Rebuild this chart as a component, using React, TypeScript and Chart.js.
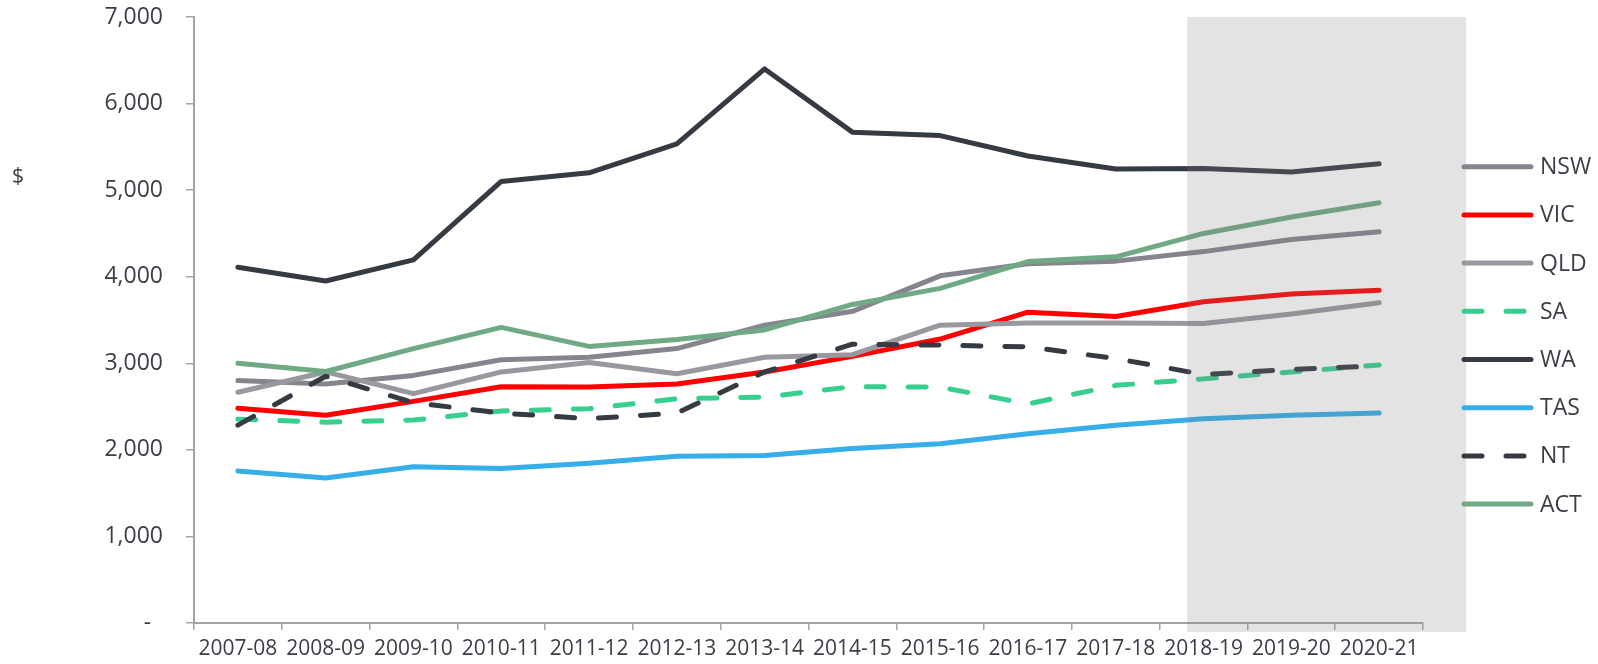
import React, { useEffect, useRef } from 'react';
import { Chart, registerables } from 'chart.js';

Chart.register(...registerables);

const years = ['2007-08', '2008-09', '2009-10', '2010-11', '2011-12', '2012-13', '2013-14', '2014-15', '2015-16', '2016-17', '2017-18', '2018-19', '2019-20', '2020-21'];

const NSW = [2800, 2760, 2860, 3040, 3070, 3170, 3440, 3600, 4010, 4150, 4180, 4290, 4430, 4520];
const VIC = [2480, 2400, 2560, 2730, 2725, 2760, 2900, 3080, 3280, 3590, 3540, 3710, 3800, 3845];
const QLD = [2665, 2900, 2650, 2900, 3010, 2880, 3070, 3100, 3440, 3465, 3465, 3460, 3570, 3700];
const SA = [2355, 2320, 2345, 2450, 2475, 2590, 2610, 2730, 2725, 2530, 2745, 2820, 2900, 2980];
const WA = [4110, 3950, 4195, 5100, 5200, 5535, 6400, 5670, 5630, 5395, 5245, 5250, 5210, 5305];
const TAS = [1755, 1675, 1805, 1785, 1845, 1925, 1935, 2015, 2070, 2185, 2285, 2360, 2400, 2425];
const NT = [2285, 2850, 2545, 2425, 2360, 2425, 2900, 3220, 3210, 3190, 3055, 2870, 2930, 2970];
const ACT = [3000, 2905, 3170, 3415, 3195, 3275, 3385, 3680, 3865, 4175, 4230, 4500, 4690, 4855];

const seriesNames = ['NSW', 'VIC', 'QLD', 'SA', 'WA', 'TAS', 'NT', 'ACT'];
const seriesValues = [NSW, VIC, QLD, SA, WA, TAS, NT, ACT];
const seriesColors = ['#85868d', '#ff0000', '#98989f', '#36cf8e', '#363a43', '#35aeea', '#363a43', '#70aa84'];
const dashedSeries = ['SA', 'NT'];

const yTickValues = [0, 1000, 2000, 3000, 4000, 5000, 6000, 7000];
const unitLabel = '$';
const shadedFrom = '2018-19';
const shadedTo = '2020-21';

const W = 1598;
const H = 664;
const DASH = [18, 24];
const FONT = '"Open Sans", sans-serif';
const TEXT_COLOR = '#3b3e46';
const AXIS_COLOR = '#a3a3a3';

const overlayPlugin = {
  id: 'overlayAndLegend',
  afterDatasetsDraw(chart: any) {
    const ctx = chart.ctx;
    const x = chart.scales.x;
    const area = chart.chartArea;
    const step = x.getPixelForValue(1) - x.getPixelForValue(0);
    const i0 = years.indexOf(shadedFrom);
    const i1 = years.indexOf(shadedTo);
    const left = x.getPixelForValue(i0) - 0.186 * step;
    const right = x.getPixelForValue(i1) + 0.99 * step;
    ctx.save();
    ctx.fillStyle = 'rgba(127,127,127,0.22)';
    ctx.fillRect(left, area.top, right - left, area.bottom + 9 - area.top);
    ctx.restore();
  },
  afterDraw(chart: any) {
    const ctx = chart.ctx;
    ctx.save();
    ctx.fillStyle = TEXT_COLOR;
    ctx.font = `21px ${FONT}`;
    ctx.textAlign = 'center';
    ctx.textBaseline = 'middle';
    ctx.fillText(unitLabel, 18, 177);
    chart.data.datasets.forEach((ds: any, i: number) => {
      const y = 166.7 + 48.2 * i;
      ctx.beginPath();
      ctx.strokeStyle = ds.borderColor;
      ctx.lineWidth = 5;
      ctx.lineCap = 'round';
      ctx.setLineDash(ds.borderDash || []);
      ctx.moveTo(1464, y);
      ctx.lineTo(1531, y);
      ctx.stroke();
      ctx.setLineDash([]);
      ctx.fillStyle = TEXT_COLOR;
      ctx.font = `23px ${FONT}`;
      ctx.textAlign = 'left';
      ctx.textBaseline = 'middle';
      ctx.fillText(ds.label, 1540, y + 1);
    });
    ctx.restore();
  },
};

export default function App() {
  const ref = useRef<HTMLCanvasElement | null>(null);

  useEffect(() => {
    if (!ref.current) return;
    const datasets = seriesNames.map((name, i) => ({
      label: name,
      data: seriesValues[i],
      borderColor: seriesColors[i],
      backgroundColor: seriesColors[i],
      borderWidth: 5,
      borderDash: dashedSeries.includes(name) ? DASH : [],
      borderCapStyle: 'round',
      borderJoinStyle: 'round',
      pointRadius: 0,
      pointHoverRadius: 0,
      tension: 0,
      fill: false,
      order: seriesNames.length - i,
    }));

    const chart = new Chart(ref.current, {
      type: 'line',
      data: { labels: years, datasets },
      plugins: [overlayPlugin],
      options: {
        animation: false,
        responsive: false,
        devicePixelRatio: 1,
        layout: { padding: { left: 0, top: 17, right: 175, bottom: 0 } },
        plugins: {
          legend: { display: false },
          tooltip: { enabled: false },
        },
        scales: {
          x: {
            type: 'category',
            offset: true,
            grid: {
              offset: true,
              drawOnChartArea: false,
              drawTicks: true,
              tickLength: 7,
              color: AXIS_COLOR,
              lineWidth: 1.5,
            },
            border: { display: true, color: AXIS_COLOR, width: 2 },
            ticks: {
              color: TEXT_COLOR,
              font: { family: FONT, size: 21 },
              padding: 6,
              maxRotation: 0,
              autoSkip: false,
            },
            afterFit(scale: any) {
              scale.height = 41;
              scale.paddingLeft = 0;
              scale.paddingRight = 0;
            },
          },
          y: {
            min: 0,
            max: 7000,
            afterBuildTicks(scale: any) {
              scale.ticks = yTickValues.map((v) => ({ value: v }));
            },
            grid: {
              drawOnChartArea: false,
              drawTicks: true,
              tickLength: 8,
              color: AXIS_COLOR,
              lineWidth: 1.5,
            },
            border: { display: true, color: AXIS_COLOR, width: 2 },
            ticks: {
              color: TEXT_COLOR,
              font: { family: FONT, size: 23 },
              padding: 23,
              callback: (v: any) => (Number(v) === 0 ? '-  ' : Number(v).toLocaleString('en-US')),
            },
            afterFit(scale: any) {
              scale.width = 194;
              scale.paddingTop = 0;
              scale.paddingBottom = 0;
            },
          },
        },
      } as any,
    });
    return () => chart.destroy();
  }, []);

  return (
    <div style={{ position: 'fixed', left: 0, top: 0, width: W, height: H, background: '#fff' }}>
      <canvas ref={ref} width={W} height={H} style={{ display: 'block', width: W, height: H }} />
    </div>
  );
}
